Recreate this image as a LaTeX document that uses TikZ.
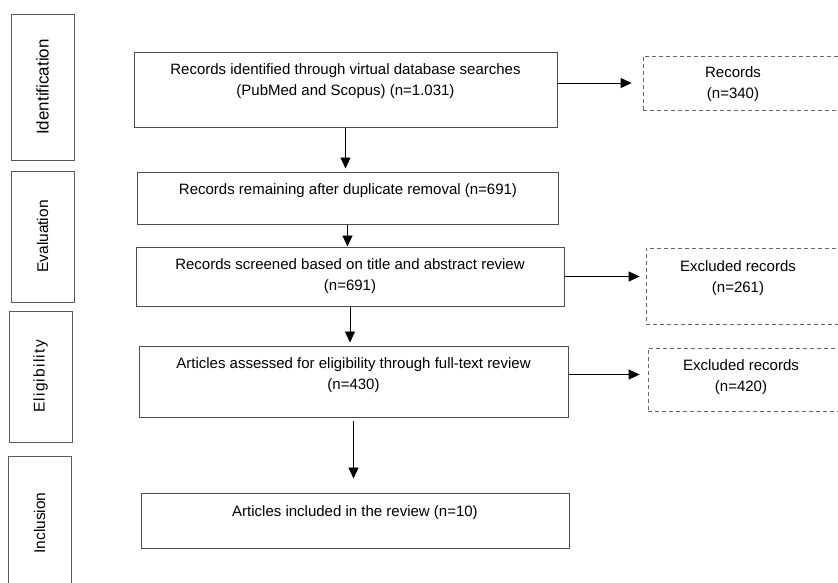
\documentclass[tikz,border=0pt]{standalone}
\usepackage{fontspec}
\setmainfont{Liberation Sans}
\usetikzlibrary{arrows.meta}

\begin{document}
\begin{tikzpicture}[x=1pt,y=-1pt,
  stage/.style={draw=black!65,line width=1pt,minimum height=63pt,inner sep=0pt,
    rotate=90,font=\fontsize{15.5}{18}\selectfont},
  box/.style={draw=black!70,line width=1pt,inner sep=0pt},
  dbox/.style={draw=black!60,line width=0.8pt,dash pattern=on 4pt off 3pt,inner sep=0pt},
  txt/.style={align=center,inner sep=0pt,anchor=north,font=\fontsize{15}{21}\selectfont},
  arr/.style={-{Triangle[length=11pt,width=10pt]},line width=0.9pt}]
  \clip (0,0) rectangle (838,582);
  \fill[white] (0,0) rectangle (838,582);

  % stages
  \node[stage,minimum width=146pt,font=\fontsize{17}{20}\selectfont] (sI) at (42.5,87) {Identification};
  \node[stage,minimum width=131pt] (sE) at (42.5,236.5) {Evaluation};
  \node[stage,minimum width=131pt] (sL) at (40.5,376.5) {\addfontfeature{LetterSpace=8}Eligibility};
  \node[stage,minimum width=134pt] (sN) at (39.5,523) {Inclusion};

  % main boxes
  \node[box,minimum width=423pt,minimum height=75pt] (b1) at (345.5,89.5) {};
  \node[txt] (t1) at (345.5,63) {Records identified through virtual database searches\\(PubMed and Scopus) (n=1.031)};
  \node[box,minimum width=421pt,minimum height=52pt] (b2) at (347.5,198) {};
  \node[txt] (t2) at (348,183) {Records remaining after duplicate removal (n=691)};
  \node[box,minimum width=428pt,minimum height=59pt] (b3) at (350,276.5) {};
  \node[txt] (t3) at (350,258) {Records screened based on title and abstract review\\(n=691)};
  \node[box,minimum width=429pt,minimum height=71pt] (b4) at (353.5,381.5) {};
  \node[txt] (t4) at (353.5,357) {Articles assessed for eligibility through full-text review\\(n=430)};
  \node[box,minimum width=428pt,minimum height=55pt] (b5) at (355,520.5) {};
  \node[txt] (t5) at (355,505) {Articles included in the review (n=10)};

  % excluded boxes
  \node[dbox,minimum width=207pt,minimum height=54pt] (d1) at (746.5,83) {};
  \node[txt] (dt1) at (733,66) {Records\\(n=340)};
  \node[dbox,minimum width=204pt,minimum height=76pt] (d2) at (748,286) {};
  \node[txt] (dt2) at (738,260) {Excluded records\\(n=261)};
  \node[dbox,minimum width=202pt,minimum height=63pt] (d3) at (749,379.5) {};
  \node[txt] (dt3) at (741,359) {Excluded records\\(n=420)};

  % arrows
  \draw[arr,shorten >=11pt] (b1.east |- d1.west) -- (d1.west);
  \draw[arr,shorten >=3pt] (b1.south) -- (b1.south |- b2.north);
  \draw[arr] (b2.south) -- (b2.south |- b3.north);
  \draw[arr,shorten >=6pt] (b3.east) -- (b3.east -| d2.west);
  \draw[arr,shorten >=3pt] (b3.south) -- (b3.south |- b4.north);
  \draw[arr,shorten >=8pt] ([yshift=7pt]b4.east) -- ([yshift=7pt]b4.east -| d3.west);
  \draw[arr,shorten <=3pt,shorten >=14pt] (b4.south) -- (b4.south |- b5.north);
\end{tikzpicture}
\end{document}
